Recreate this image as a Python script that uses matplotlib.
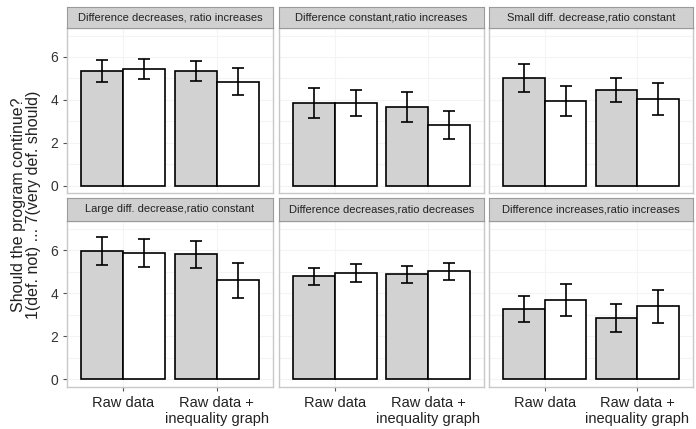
import numpy as np
import matplotlib.pyplot as plt

plt.rcParams['font.family'] = ['Liberation Sans', 'DejaVu Sans']

# Data (means and half-widths of error bars)
panels = ["Difference decreases, ratio increases",
          "Difference constant,ratio increases",
          "Small diff. decrease,ratio constant",
          "Large diff. decrease,ratio constant",
          "Difference decreases,ratio decreases",
          "Difference increases,ratio increases"]
conditions = ["Raw data", "Raw data +\ninequality graph"]

# gray bars (first of each pair) and white bars (second)
gray_means = [[5.35, 5.35], [3.85, 3.66], [5.02, 4.46],
              [5.95, 5.80], [4.79, 4.88], [3.26, 2.84]]
gray_err = [[0.51, 0.47], [0.70, 0.70], [0.66, 0.54],
            [0.65, 0.63], [0.40, 0.40], [0.60, 0.66]]
white_means = [[5.45, 4.83], [3.85, 2.82], [3.94, 4.04],
               [5.86, 4.60], [4.93, 5.02], [3.67, 3.40]]
white_err = [[0.47, 0.63], [0.61, 0.66], [0.68, 0.75],
             [0.65, 0.80], [0.42, 0.40], [0.74, 0.77]]

W, H = 696, 429
fig = plt.figure(figsize=(W / 100, H / 100), dpi=100)

col_x = [(67, 273), (279, 484), (489, 693)]
row_y = [(7, 28, 193), (198, 221, 387)]  # strip top, panel top, panel bottom

bar_w = 0.45
for idx, name in enumerate(panels):
    r, c = divmod(idx, 3)
    x0, x1 = col_x[c]
    st, pt, pb = row_y[r]
    ax = fig.add_axes([x0 / W, 1 - pb / H, (x1 - x0) / W, (pb - pt) / H])
    sax = fig.add_axes([x0 / W, 1 - pt / H, (x1 - x0) / W, (pt - st) / H])

    x = np.arange(1, len(conditions) + 1)
    ax.set_axisbelow(True)
    ax.bar(x - bar_w / 2, gray_means[idx], bar_w, color='#d2d2d2',
           edgecolor='black', linewidth=1.2, zorder=2)
    ax.bar(x + bar_w / 2, white_means[idx], bar_w, color='white',
           edgecolor='black', linewidth=1.2, zorder=2)
    ax.errorbar(x - bar_w / 2, gray_means[idx], yerr=gray_err[idx], fmt='none',
                ecolor='black', elinewidth=1.2, capsize=4, capthick=1.2, zorder=3)
    ax.errorbar(x + bar_w / 2, white_means[idx], yerr=white_err[idx], fmt='none',
                ecolor='black', elinewidth=1.2, capsize=4, capthick=1.2, zorder=3)

    ax.set_xlim(0.4, 2.6)
    ax.set_ylim(-0.35, 7.35)
    ax.set_yticks([0, 2, 4, 6])
    ax.set_yticks([1, 3, 5, 7], minor=True)
    ax.set_xticks(x)
    ax.grid(True, which='both', color='#f4f4f4', linewidth=0.8)
    ax.tick_params(which='minor', length=0)
    ax.tick_params(colors='#555555', labelcolor='#333333', labelsize=10, length=3)
    for s in ax.spines.values():
        s.set_color('#c8c8c8')
        s.set_linewidth(1)

    if c == 0:
        ax.set_yticklabels(["0", "2", "4", "6"])
    else:
        ax.set_yticklabels([])
        ax.tick_params(axis='y', length=0)
    if r == 1:
        ax.set_xticklabels(conditions, fontsize=10.5, color='#222222')
    else:
        ax.set_xticklabels([])
        ax.tick_params(axis='x', length=0)

    sax.set_facecolor('#d0d0d0')
    sax.set_xticks([])
    sax.set_yticks([])
    for s in sax.spines.values():
        s.set_color('#9a9a9a')
        s.set_linewidth(0.8)
    sax.text(0.5, 0.5, name, ha='center', va='center', fontsize=8,
             color='#222222', transform=sax.transAxes)

fig.text(26 / W, 1 - 205 / H,
         "Should the program continue?\n1(def. not) ... 7(very def. should)",
         rotation=90, ha='center', va='center', fontsize=11.5, color='#222222',
         linespacing=1.0)

fig.savefig("out.png", dpi=100)
